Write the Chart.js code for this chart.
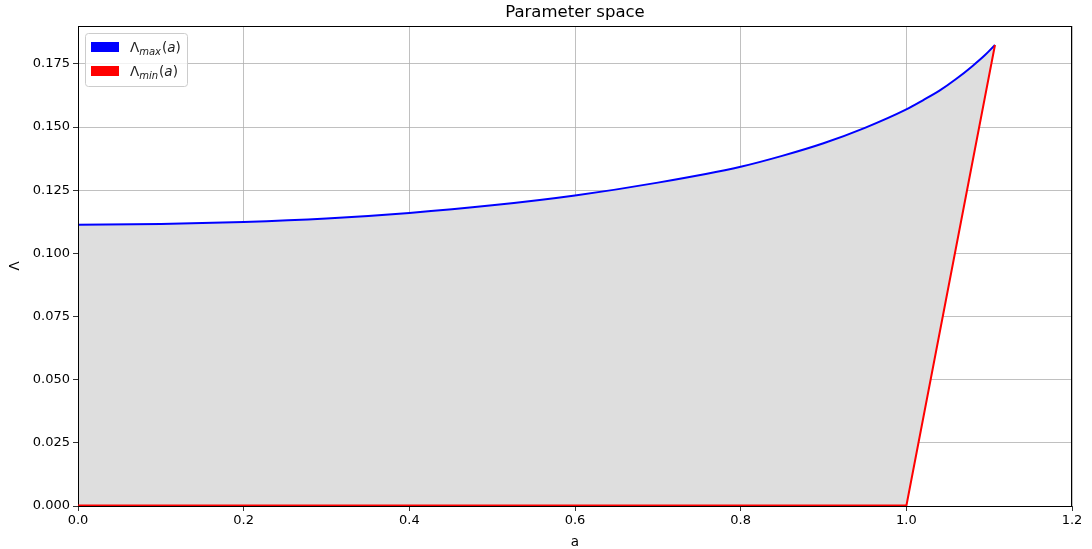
<!DOCTYPE html>
<html>
<head>
<meta charset="utf-8">
<script src="https://cdn.jsdelivr.net/npm/chart.js@4.4.1/dist/chart.umd.min.js"></script>
<style>
  html, body { margin: 0; padding: 0; background: #fff; }
  #wrap { width: 1092px; height: 549px; position: relative; }
</style>
</head>
<body>
<div id="wrap"><canvas id="chart" width="1092" height="549"></canvas></div>
<script>
// spin parameter a and the two bounds
const aMax = [0.00, 0.10, 0.20, 0.30, 0.40, 0.50, 0.60, 0.70, 0.80, 0.85, 0.90, 0.95, 1.00, 1.02, 1.04, 1.06, 1.08, 1.095, 1.107];
const lambdaMax = [0.1113, 0.1116, 0.1124, 0.1138, 0.1160, 0.1190, 0.1229, 0.1280, 0.1343, 0.1386, 0.1436, 0.1497, 0.1570, 0.1606, 0.1644, 0.1690, 0.1742, 0.1785, 0.1825];
const aMin = [0.00, 1.00, 1.107];
const lambdaMin = [0.0, 0.0, 0.1825];

const xTicks = [0.0, 0.2, 0.4, 0.6, 0.8, 1.0, 1.2];
const yTicks = [0.000, 0.025, 0.050, 0.075, 0.100, 0.125, 0.150, 0.175];

const FONT = "'DejaVu Sans', sans-serif";

const toPoints = (xs, ys) => xs.map((x, i) => ({ x: x, y: ys[i] }));

// caja exterior, titulo y leyenda estilo matplotlib
const decor = {
    id: "decor",
    afterDraw(chart) {
        const { ctx, chartArea: ca } = chart;
        ctx.save();
        // marco
        ctx.strokeStyle = "#000";
        ctx.lineWidth = 1;
        ctx.strokeRect(ca.left + 0.5, ca.top + 0.5, ca.right - ca.left - 1, ca.bottom - ca.top);

        // titulo
        ctx.fillStyle = "#000";
        ctx.font = "16.5px " + FONT;
        ctx.textAlign = "center";
        ctx.textBaseline = "alphabetic";
        ctx.fillText("Parameter space", (ca.left + ca.right) / 2, 17);

        // ejes
        ctx.font = "13.5px " + FONT;
        ctx.fillText("a", (ca.left + ca.right) / 2, 546);
        ctx.save();
        ctx.translate(19, (ca.top + ca.bottom) / 2);
        ctx.rotate(-Math.PI / 2);
        ctx.fillText("Λ", 0, 0);
        ctx.restore();

        // linea roja sobre el eje inferior, como en matplotlib
        const xs = chart.scales.x, ys = chart.scales.y;
        ctx.strokeStyle = "#ff0000";
        ctx.lineWidth = 1.2;
        ctx.beginPath();
        ctx.moveTo(xs.getPixelForValue(aMin[0]), ys.getPixelForValue(lambdaMin[0]) - 0.8);
        ctx.lineTo(xs.getPixelForValue(aMin[1]), ys.getPixelForValue(lambdaMin[1]) - 0.8);
        ctx.stroke();

        // leyenda
        const lx = ca.left + 7, ly = ca.top + 7, lw = 102, lh = 53;
        ctx.globalAlpha = 0.8;
        ctx.fillStyle = "#fff";
        ctx.beginPath();
        ctx.roundRect(lx + 0.5, ly + 0.5, lw, lh, 3);
        ctx.fill();
        ctx.globalAlpha = 1;
        ctx.strokeStyle = "#cccccc";
        ctx.lineWidth = 1;
        ctx.stroke();

        const items = [
            { color: "#0000ff", sub: "max" },
            { color: "#ff0000", sub: "min" },
        ];
        items.forEach((it, i) => {
            const y0 = ly + 9 + i * 24;
            ctx.fillStyle = it.color;
            ctx.fillRect(lx + 6, y0, 28, 10);
            ctx.fillStyle = "#222";
            ctx.textAlign = "left";
            let tx = lx + 45;
            const base = y0 + 10;
            ctx.font = "13.5px " + FONT;
            ctx.fillText("Λ", tx, base);
            tx += ctx.measureText("Λ").width;
            ctx.font = "italic 10px " + FONT;
            ctx.fillText(it.sub, tx, base + 3);
            tx += ctx.measureText(it.sub).width + 1;
            ctx.font = "13.5px " + FONT;
            ctx.fillText("(", tx, base);
            tx += ctx.measureText("(").width;
            ctx.font = "italic 13.5px " + FONT;
            ctx.fillText("a", tx, base);
            tx += ctx.measureText("a").width;
            ctx.font = "13.5px " + FONT;
            ctx.fillText(")", tx, base);
        });
        ctx.restore();
    },
};

new Chart(document.getElementById("chart"), {
    type: "line",
    data: {
        datasets: [
            {
                label: "Λmax(a)",
                data: toPoints(aMax, lambdaMax),
                borderColor: "#0000ff",
                backgroundColor: "#dedede",
                borderWidth: 2,
                pointRadius: 0,
                cubicInterpolationMode: "monotone",
                fill: "+1",
                clip: false,
                order: 1,
            },
            {
                label: "Λmin(a)",
                data: toPoints(aMin, lambdaMin),
                borderColor: "#ff0000",
                backgroundColor: "#ff0000",
                borderWidth: 2,
                pointRadius: 0,
                tension: 0,
                fill: false,
                clip: false,
                order: 0,
            },
        ],
    },
    options: {
        responsive: false,
        animation: false,
        layout: { padding: { left: 0, right: 20, top: 26, bottom: 0 } },
        plugins: {
            legend: { display: false },
            title: { display: false },
            tooltip: { enabled: false },
            filler: { drawTime: "beforeDatasetsDraw" },
        },
        scales: {
            x: {
                type: "linear",
                min: 0,
                max: 1.2,
                afterFit: (s) => { s.height = 43; },
                afterBuildTicks: (s) => { s.ticks = xTicks.map((v) => ({ value: v })); },
                ticks: {
                    color: "#000",
                    font: { family: FONT, size: 13 },
                    padding: 2,
                    maxRotation: 0,
                    callback: (v) => Number(v).toFixed(1),
                },
                grid: { color: "#b0b0b0", lineWidth: 0.8, tickLength: 5, tickColor: "#000" },
                border: { display: false },
            },
            y: {
                type: "linear",
                min: 0,
                max: 0.19,
                afterFit: (s) => { s.width = 78; },
                afterBuildTicks: (s) => { s.ticks = yTicks.map((v) => ({ value: v })); },
                ticks: {
                    color: "#000",
                    font: { family: FONT, size: 13 },
                    padding: 3,
                    callback: (v) => Number(v).toFixed(3),
                },
                grid: { color: "#b0b0b0", lineWidth: 0.8, tickLength: 5, tickColor: "#000" },
                border: { display: false },
            },
        },
    },
    plugins: [decor],
});
</script>
</body>
</html>
